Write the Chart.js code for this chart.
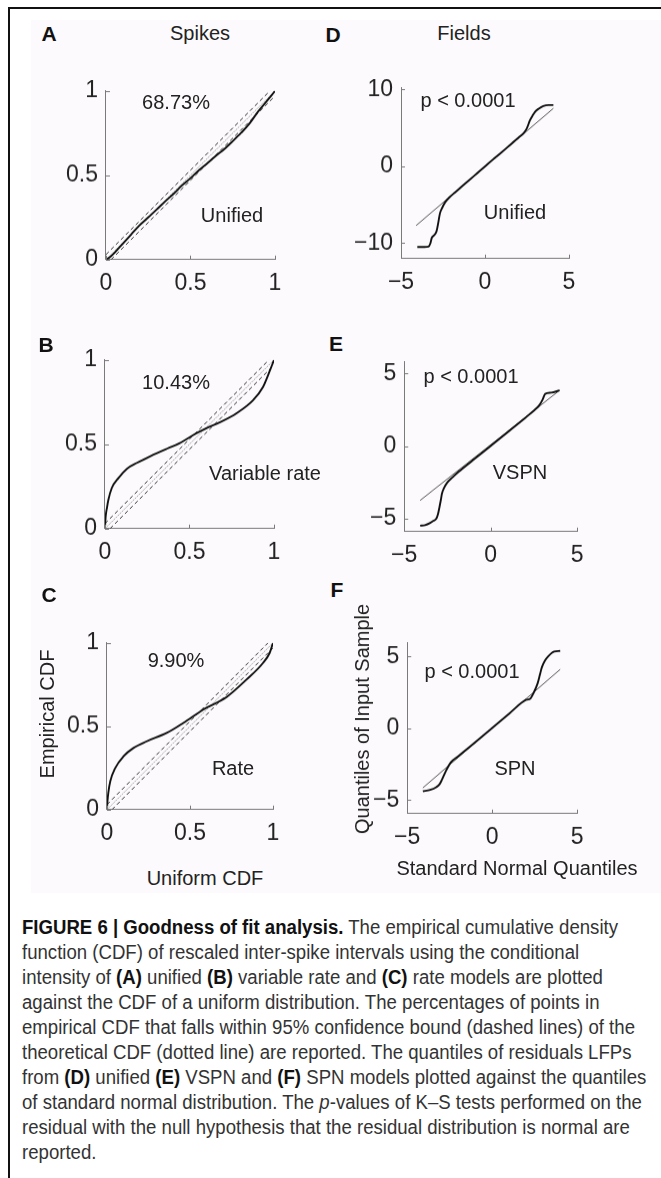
<!DOCTYPE html>
<html>
<head>
<meta charset="utf-8">
<script src="https://cdn.jsdelivr.net/npm/chart.js@4.4.1/dist/chart.umd.min.js"></script>
<style>
  body { margin: 0; width: 661px; height: 1178px; position: relative; overflow: hidden; background: #fff;
         font-family: "Liberation Sans", Arial, Helvetica, sans-serif; color: #222; }
  .rule-top { position: absolute; left: 8px; top: 7px; width: 653px; height: 2px; background: #111; }
  .rule-left { position: absolute; left: 8px; top: 7px; width: 2px; height: 1171px; background: #111; }
  .figure-bg { position: absolute; left: 31px; top: 20px; width: 630px; height: 873px; background: #fcfafc; }
  .panel { position: absolute; }
  .txt { position: absolute; transform: translate(-50%, -50%); white-space: nowrap; font-size: 20px; line-height: 20px; color: #222; }
  .letter { font-weight: bold; font-size: 21px; color: #111; }
  .vert { transform: translate(-50%, -50%) rotate(-90deg); }
  #caption { position: absolute; left: 22px; top: 915px; font-family: "Liberation Sans", Arial, sans-serif;
             font-size: 20px; line-height: 25px; color: #333; white-space: nowrap; transform-origin: 0 0; }
  #caption b { color: #111; }
  #caption span { display: inline-block; }
</style>
</head>
<body>
<div class="rule-top"></div>
<div class="rule-left"></div>
<div class="figure-bg"></div>

<div class="panel" id="wrapA"><canvas id="chartA" width="260" height="230"></canvas></div>
<div class="panel" id="wrapB"><canvas id="chartB" width="260" height="230"></canvas></div>
<div class="panel" id="wrapC"><canvas id="chartC" width="260" height="230"></canvas></div>
<div class="panel" id="wrapD"><canvas id="chartD" width="260" height="230"></canvas></div>
<div class="panel" id="wrapE"><canvas id="chartE" width="260" height="230"></canvas></div>
<div class="panel" id="wrapF"><canvas id="chartF" width="260" height="230"></canvas></div>

<!-- panel letters and column titles -->
<div class="txt letter" style="left:49px;top:34px">A</div>
<div class="txt letter" style="left:46px;top:345px">B</div>
<div class="txt letter" style="left:49px;top:595px">C</div>
<div class="txt letter" style="left:333px;top:35px">D</div>
<div class="txt letter" style="left:336px;top:344px">E</div>
<div class="txt letter" style="left:337px;top:590px">F</div>
<div class="txt" style="left:200px;top:33px">Spikes</div>
<div class="txt" style="left:464px;top:33px">Fields</div>

<!-- in-plot annotations -->
<div class="txt" style="left:176px;top:102px">68.73%</div>
<div class="txt" style="left:232px;top:215px">Unified</div>
<div class="txt" style="left:176px;top:382px">10.43%</div>
<div class="txt" style="left:265px;top:473px">Variable rate</div>
<div class="txt" style="left:176px;top:660px">9.90%</div>
<div class="txt" style="left:233px;top:768px">Rate</div>
<div class="txt" style="left:468px;top:100px">p &lt; 0.0001</div>
<div class="txt" style="left:515px;top:212px">Unified</div>
<div class="txt" style="left:471px;top:376px">p &lt; 0.0001</div>
<div class="txt" style="left:520px;top:472px">VSPN</div>
<div class="txt" style="left:472px;top:671px">p &lt; 0.0001</div>
<div class="txt" style="left:515px;top:768px">SPN</div>

<!-- axis titles -->
<div class="txt vert" style="left:47px;top:714px">Empirical CDF</div>
<div class="txt" style="left:205px;top:878px">Uniform CDF</div>
<div class="txt vert" style="left:362px;top:719px">Quantiles of Input Sample</div>
<div class="txt" style="left:517px;top:868px">Standard Normal Quantiles</div>

<div id="caption">
<div><span id="capFirst"><b>FIGURE 6 | Goodness of fit analysis.</b> The empirical cumulative density</span></div>
<div>function (CDF) of rescaled inter-spike intervals using the conditional</div>
<div>intensity of <b>(A)</b> unified <b>(B)</b> variable rate and <b>(C)</b> rate models are plotted</div>
<div>against the CDF of a uniform distribution. The percentages of points in</div>
<div>empirical CDF that falls within 95% confidence bound (dashed lines) of the</div>
<div>theoretical CDF (dotted line) are reported. The quantiles of residuals LFPs</div>
<div>from <b>(D)</b> unified <b>(E)</b> VSPN and <b>(F)</b> SPN models plotted against the quantiles</div>
<div>of standard normal distribution. The <i>p</i>-values of K–S tests performed on the</div>
<div>residual with the null hypothesis that the residual distribution is normal are</div>
<div>reported.</div>
</div>

<script>
// ---- tick values ----
const cdfTicks = [0, 0.5, 1];
const qqTicksX = [-5, 0, 5];
const qqTicksD = [-10, 0, 10];
const qqTicksEF = [-5, 0, 5];

// ---- KS plots: theoretical CDF and 95% bounds ----
const diagX = [0, 1];
const diagY = [0, 1];
const upperBoundX = [0, 0.97];
const upperBoundY = [0.03, 1];
const lowerBoundX = [0.03, 1];
const lowerBoundY = [0, 0.97];

// empirical CDF of rescaled ISIs, unified model
const unifiedX = [0, 0.02, 0.05, 0.1, 0.15, 0.2, 0.25, 0.3, 0.35, 0.4, 0.45, 0.5, 0.55, 0.6, 0.65, 0.7, 0.75, 0.8, 0.85, 0.9, 0.95, 0.98, 1];
const unifiedY = [0, 0.012, 0.04, 0.095, 0.15, 0.205, 0.25, 0.297, 0.345, 0.39, 0.44, 0.483, 0.53, 0.572, 0.615, 0.655, 0.702, 0.752, 0.808, 0.878, 0.938, 0.974, 1];

// variable rate model
const varRateX = [0, 0.004, 0.012, 0.02, 0.04, 0.08, 0.13, 0.19, 0.27, 0.37, 0.44, 0.54, 0.6, 0.68, 0.78, 0.875, 0.935, 0.975, 1];
const varRateY = [0, 0.07, 0.125, 0.17, 0.24, 0.30, 0.355, 0.39, 0.43, 0.475, 0.505, 0.565, 0.595, 0.63, 0.685, 0.76, 0.84, 0.935, 1];

// rate model
const rateX = [0, 0.003, 0.008, 0.02, 0.05, 0.1, 0.16, 0.24, 0.36, 0.46, 0.58, 0.72, 0.84, 0.94, 0.98, 1];
const rateY = [0, 0.05, 0.1, 0.17, 0.25, 0.32, 0.37, 0.41, 0.46, 0.52, 0.6, 0.675, 0.78, 0.88, 0.94, 1];

// ---- QQ plots of LFP residuals ----
const unifiedQX = [-4.03, -3.6, -3.37, -3.25, -3.17, -3.0, -2.88, -2.78, -2.68, -2.55, -2.38, -2.1, -1.79, -1.4, -1.0, -0.5, 0, 0.5, 1.0, 1.5, 2.0, 2.3, 2.48, 2.68, 2.83, 2.98, 3.2, 3.47, 3.8, 4.07];
const unifiedQY = [-10.5, -10.5, -10.45, -10.0, -9.3, -8.9, -8.4, -7.3, -6.1, -5.4, -4.7, -4.0, -3.4, -2.65, -1.9, -0.95, 0, 0.95, 1.85, 2.8, 3.75, 4.3, 4.9, 6.0, 6.6, 7.1, 7.5, 7.85, 7.97, 7.97];
const unifiedRefX = [-4.1, 4.07];
const unifiedRefY = [-7.7, 7.54];

const vspnX = [-4.08, -3.8, -3.5, -3.3, -3.15, -3.05, -2.96, -2.88, -2.82, -2.7, -2.53, -2.2, -1.86, -1.0, 0, 1.0, 2.0, 2.5, 2.8, 3.0, 3.15, 3.5, 3.98];
const vspnY = [-5.49, -5.45, -5.3, -5.15, -5.02, -4.7, -4.2, -3.7, -3.28, -2.9, -2.55, -2.15, -1.78, -0.95, 0, 0.97, 1.95, 2.45, 2.8, 3.2, 3.6, 3.68, 3.84];
const vspnRefX = [-4.08, 3.98];
const vspnRefY = [-3.75, 3.84];

const spnX = [-4.08, -3.65, -3.29, -3.1, -2.96, -2.71, -2.43, -2.0, -1.0, 0, 1.0, 2.0, 2.24, 2.45, 2.67, 2.8, 2.92, 3.1, 3.31, 3.65, 4.0];
const spnY = [-4.38, -4.29, -4.1, -3.9, -3.59, -2.94, -2.36, -1.95, -0.98, 0.02, 1.02, 1.98, 2.07, 2.5, 3.12, 3.7, 4.24, 4.7, 5.03, 5.34, 5.38];
const spnRefX = [-4.08, 4.0];
const spnRefY = [-4.15, 4.1];

const pts = (xs, ys) => xs.map((x, i) => ({ x: x, y: ys[i] }));

const curve = (xs, ys) => ({
  data: pts(xs, ys), showLine: true, pointRadius: 0, borderColor: '#111', borderWidth: 1.9,
  cubicInterpolationMode: 'monotone'
});
const dotted = (xs, ys) => ({
  data: pts(xs, ys), showLine: true, pointRadius: 0, borderColor: '#a8a8a8', borderWidth: 1, borderDash: [2, 1]
});
const dashed = (xs, ys) => ({
  data: pts(xs, ys), showLine: true, pointRadius: 0, borderColor: '#333', borderWidth: 1, borderDash: [4, 3]
});
const refLine = (xs, ys) => ({
  data: pts(xs, ys), showLine: true, pointRadius: 0, borderColor: '#555', borderWidth: 1
});

// MATLAB-style ticks pointing into the axes
const innerTicks = {
  id: 'innerTicks',
  afterDatasetsDraw(chart) {
    const { ctx, chartArea: a, scales: { x, y } } = chart;
    ctx.save();
    ctx.strokeStyle = '#7a7a7a';
    ctx.lineWidth = 1;
    x.ticks.forEach(t => {
      const px = Math.round(x.getPixelForValue(t.value)) + 0.5;
      ctx.beginPath(); ctx.moveTo(px, a.bottom); ctx.lineTo(px, a.bottom - 4); ctx.stroke();
    });
    y.ticks.forEach(t => {
      const py = Math.round(y.getPixelForValue(t.value)) + 0.5;
      ctx.beginPath(); ctx.moveTo(a.left, py); ctx.lineTo(a.left + 4, py); ctx.stroke();
    });
    ctx.restore();
  }
};

const tickFont = { family: '"Liberation Sans", Arial, sans-serif', size: 23 };
const fmt = v => String(v).replace('-', '\u2212');

function axis(min, max, list, pad) {
  return {
    type: 'linear', min: min, max: max,
    grid: { display: false, drawTicks: false },
    border: { display: true, color: '#7a7a7a', width: 1 },
    afterBuildTicks: s => { s.ticks = list.map(v => ({ value: v })); },
    ticks: { font: tickFont, color: '#222', padding: pad, callback: v => fmt(v), autoSkip: false, maxRotation: 0 }
  };
}

function panel(id, box, xr, yr, xTicks, yTicks, datasets) {
  const chart = new Chart(document.getElementById('chart' + id), {
    type: 'scatter',
    data: { datasets: datasets },
    options: {
      responsive: false, maintainAspectRatio: false, animation: false, devicePixelRatio: 1,
      layout: { padding: { top: 14, right: 14, bottom: 4, left: 4 } },
      plugins: { legend: { display: false }, tooltip: { enabled: false } },
      scales: { x: axis(xr[0], xr[1], xTicks, 10), y: axis(yr[0], yr[1], yTicks, 8) }
    },
    plugins: [innerTicks]
  });
  // size the canvas so the plot area matches the box, then move it into place
  for (let i = 0; i < 2; i++) {
    const a = chart.chartArea;
    chart.resize(chart.width + (box[2] - box[0]) - (a.right - a.left),
                 chart.height + (box[3] - box[1]) - (a.bottom - a.top));
  }
  const a = chart.chartArea;
  const wrap = document.getElementById('wrap' + id);
  wrap.style.left = (box[0] - a.left) + 'px';
  wrap.style.top = (box[1] - a.top) + 'px';
  return chart;
}

const ksSet = (xs, ys) => [curve(xs, ys), dashed(upperBoundX, upperBoundY), dashed(lowerBoundX, lowerBoundY), dotted(diagX, diagY)];

panel('A', [106, 91, 275, 259], [0, 1], [0, 1], cdfTicks, cdfTicks, ksSet(unifiedX, unifiedY));
panel('B', [105, 360, 274, 528], [0, 1], [0, 1], cdfTicks, cdfTicks, ksSet(varRateX, varRateY));
panel('C', [107, 643, 273, 809], [0, 1], [0, 1], cdfTicks, cdfTicks, ksSet(rateX, rateY));
panel('D', [401, 88, 569, 258], [-5, 5], [-12.0, 10.2], qqTicksX, qqTicksD,
      [curve(unifiedQX, unifiedQY), refLine(unifiedRefX, unifiedRefY)]);
panel('E', [404, 362, 577, 531], [-5, 5], [-5.9, 5.8], qqTicksX, qqTicksEF,
      [curve(vspnX, vspnY), refLine(vspnRefX, vspnRefY)]);
panel('F', [407, 643, 577, 813], [-5, 5], [-5.94, 5.94], qqTicksX, qqTicksEF,
      [curve(spnX, spnY), refLine(spnRefX, spnRefY)]);

// caption set in a condensed width
const cap = document.getElementById('caption');
const firstW = document.getElementById('capFirst').getBoundingClientRect().width;
cap.style.transform = 'scaleX(' + (596 / firstW) + ')';
</script>
</body>
</html>
